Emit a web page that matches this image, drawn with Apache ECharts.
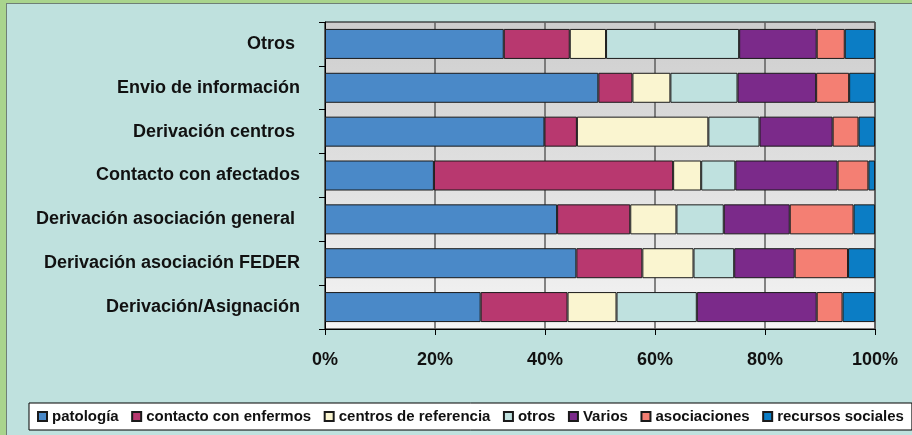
<!DOCTYPE html>
<html>
<head>
<meta charset="utf-8">
<script src="https://cdn.jsdelivr.net/npm/echarts@6/dist/echarts.min.js"></script>
<style>
  html, body { margin: 0; padding: 0; background: #a9d48d; }
  #frame { position: absolute; left: 6px; top: 3px; width: 906px; height: 432px;
           background: #bfe1de; border-left: 1px solid #6f7f76; border-top: 1px solid #6f7f76; }
  #chart { position: absolute; left: -7px; top: -4px; width: 912px; height: 435px; }
</style>
</head>
<body>
<div id="frame"><div id="chart"></div></div>
<script>
// Categories, top to bottom
const categories = [
  'Otros ',
  'Envio de información',
  'Derivación centros ',
  'Contacto con afectados',
  'Derivación asociación general ',
  'Derivación asociación FEDER',
  'Derivación/Asignación'
];

// Share (%) of each group per category
const patologia     = [32.5, 49.7, 39.9, 19.8, 42.2, 45.7, 28.3];
const contacto      = [12.0,  6.2,  5.9, 43.5, 13.3, 12.0, 15.8];
const centros       = [ 6.6,  6.9, 23.9,  5.1,  8.4,  9.3,  8.9];
const otros         = [24.2, 12.2,  9.3,  6.2,  8.6,  7.4, 14.6];
const varios        = [14.1, 14.3, 13.3, 18.6, 12.0, 11.0, 21.8];
const asociaciones  = [ 5.1,  6.0,  4.7,  5.6, 11.6,  9.7,  4.7];
const recursos      = [ 5.5,  4.7,  3.0,  1.2,  3.9,  4.9,  5.9];

const seriesNames = ['patología', 'contacto con enfermos', 'centros de referencia', 'otros', 'Varios', 'asociaciones', 'recursos sociales'];
const seriesData  = [patologia, contacto, centros, otros, varios, asociaciones, recursos];
const seriesColors = ['#4a89c8', '#b8386f', '#faf5d0', '#bfe1df', '#7b2a8a', '#f47f73', '#0b7dc5'];

const xTicks = [0, 20, 40, 60, 80, 100];

const FONT = 'Liberation Sans, Arial, sans-serif';

const chart = echarts.init(document.getElementById('chart'));
chart.setOption({
  animation: false,
  backgroundColor: 'transparent',
  textStyle: { fontFamily: FONT },
  grid: {
    left: 325, right: 37, top: 22, bottom: 106,
    show: true,
    borderColor: '#000', borderWidth: 1,
    backgroundColor: new echarts.graphic.LinearGradient(0, 0, 0, 1, [
      { offset: 0, color: '#cdcdcd' },
      { offset: 1, color: '#f4f4f4' }
    ])
  },
  xAxis: {
    type: 'value', min: xTicks[0], max: xTicks[xTicks.length - 1], interval: 20,
    axisLine: { show: true, lineStyle: { color: '#000', width: 1 } },
    axisTick: { show: true, length: 6, lineStyle: { color: '#000' } },
    splitLine: { show: true, lineStyle: { color: '#5e5e5e', width: 1.5 } },
    axisLabel: { formatter: '{value}%', color: '#111', fontWeight: 'bold', fontSize: 18, margin: 22, fontFamily: FONT }
  },
  yAxis: {
    type: 'category', data: categories, inverse: true,
    axisLine: { show: true, lineStyle: { color: '#000', width: 1 } },
    axisTick: { show: true, length: 6, lineStyle: { color: '#000' } },
    axisLabel: { color: '#111', fontWeight: 'bold', fontSize: 18, margin: 25, fontFamily: FONT }
  },
  legend: {
    left: 29, top: 403, width: 880,
    backgroundColor: '#ffffff', borderColor: '#000', borderWidth: 1,
    padding: [6, 8, 6, 8],
    itemWidth: 9, itemHeight: 9, itemGap: 12.5,
    icon: 'rect',
    textStyle: { color: '#111', fontWeight: 'bold', fontSize: 15, fontFamily: FONT },
    data: seriesNames
  },
  series: seriesNames.map((name, i) => ({
    name: name,
    type: 'bar',
    stack: 'total',
    barWidth: 30,
    data: seriesData[i],
    itemStyle: { color: seriesColors[i], borderColor: '#1a1a1a', borderWidth: 1 }
  }))
});
</script>
</body>
</html>
